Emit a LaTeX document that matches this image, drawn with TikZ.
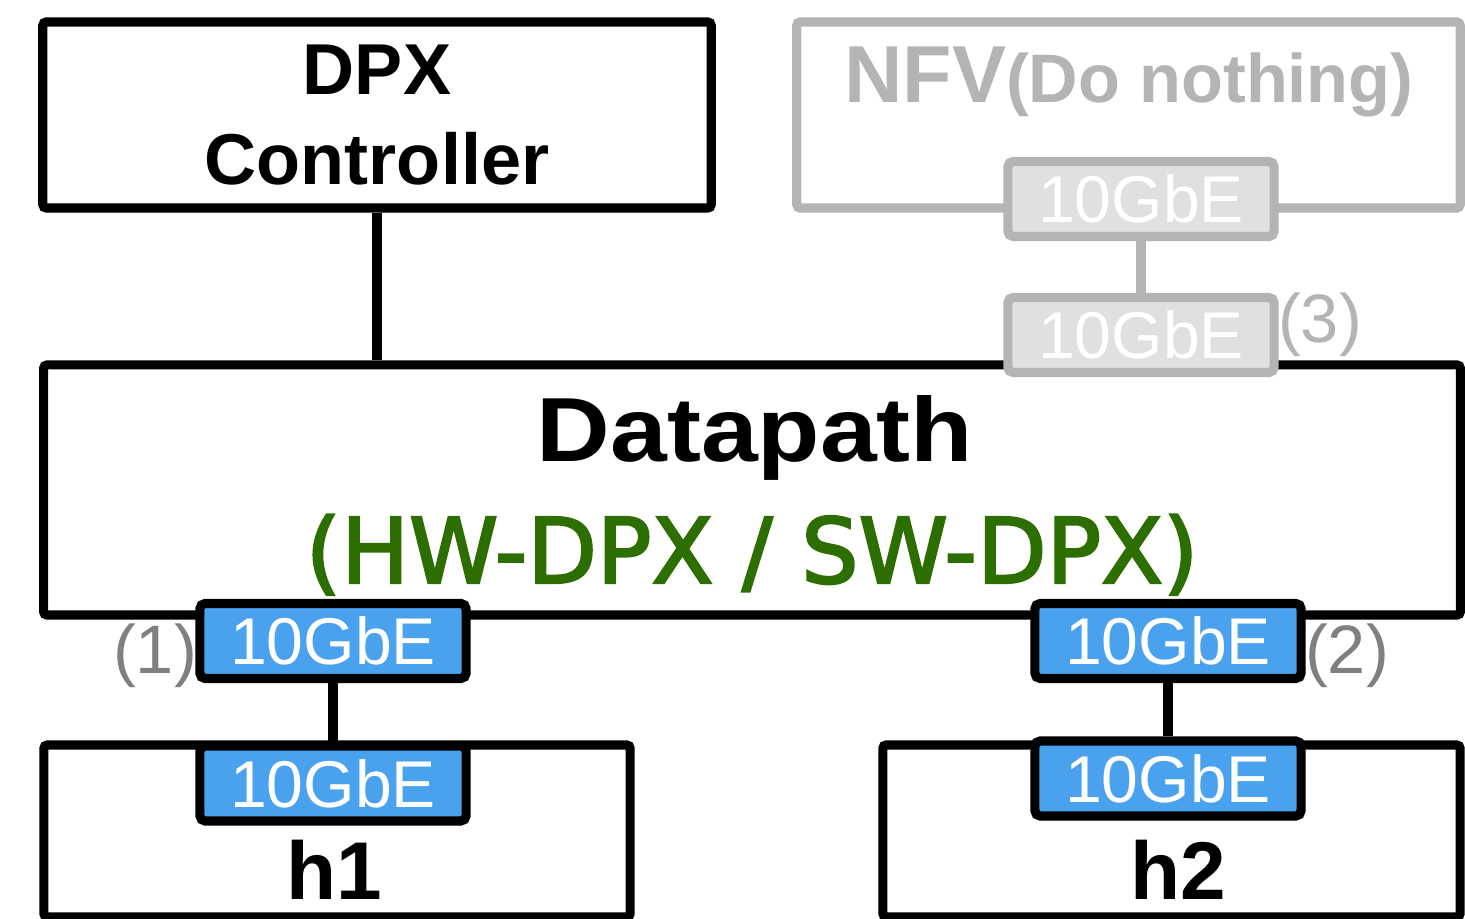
\documentclass[tikz,border=0pt]{standalone}
\usepackage{fontspec}
\setmainfont{Liberation Sans}
\newfontfamily\boldfont{Liberation Sans Bold}
\newfontfamily\widebold[FakeStretch=1.12]{Liberation Sans Bold}
\newfontfamily\kindfont[FakeBold=2.5]{DejaVu Sans}
\usepackage{xcolor}
\definecolor{portblue}{RGB}{74,162,239}
\definecolor{dpgreen}{RGB}{45,110,0}
\definecolor{nfvgray}{RGB}{180,180,180}
\definecolor{nfvfill}{RGB}{224,224,224}
\definecolor{idxgray}{RGB}{128,128,128}

\begin{document}
\begin{tikzpicture}[x=0.01cm, y=-0.01cm, line width=2.6pt,
    box/.style={draw, rectangle, rounded corners=1pt, inner sep=0pt},
    port/.style={draw, fill=portblue, rectangle, rounded corners=1.5pt, inner sep=0pt,
        minimum width=2.66cm, minimum height=0.75cm, text=white,
        font=\fontsize{18.8}{20}\selectfont},
    nfvport/.style={port, draw=nfvgray, fill=nfvfill},
    idx/.style={inner sep=0pt, text=idxgray, font=\fontsize{19.5}{20}\selectfont},
    title/.style={anchor=base, inner sep=0pt}]
                \useasboundingbox (0,0) rectangle (1465,919);
                % boxes
                \node[box, minimum width=6.68cm, minimum height=1.86cm, align=center,
                    font=\boldfont\fontsize{20.5}{25.6}\selectfont] (ctrl) at (377,115) {DPX\\Controller};
                \node[box, draw=nfvgray, minimum width=6.63cm, minimum height=1.86cm] (nfv) at (1128.5,115) {};
                \node[title, text=nfvgray] (nfvname) at (1129,103)
                    {\boldfont\fontsize{23}{24}\selectfont NFV\fontsize{19.5}{24}\selectfont(Do nothing)};
                \node[box, minimum width=14.16cm, minimum height=2.5cm] (dp) at (752,490) {};
                \node[title, font=\widebold\fontsize{25.9}{28}\selectfont] (dpname) at (755,462) {Datapath};
                \node[title, text=dpgreen, font=\kindfont\fontsize{25.7}{28}\selectfont] (dpkind) at (752,583) {(HW-DPX / SW-DPX)};
                \node[box, minimum width=5.86cm, minimum height=1.72cm] (h1) at (337,831) {};
                \node[box, minimum width=5.77cm, minimum height=1.72cm] (h2) at (1171.5,831) {};
                \node[title, font=\boldfont\fontsize{23.3}{25}\selectfont] (h1name) at (334,900) {h1};
                \node[title, font=\boldfont\fontsize{23.3}{25}\selectfont] (h2name) at (1178,900) {h2};
                % ports
                \node[nfvport] (nfvport) at (1141,199) {10GbE};
                \node[nfvport] (dpport3) at (1141,335) {10GbE};
                \node[port] (dpport1) at (333,641) {10GbE};
                \node[port] (h1port) at (333,783.5) {10GbE};
                \node[port] (dpport2) at (1168,641) {10GbE};
                \node[port] (h2port) at (1168,778.5) {10GbE};
                \node[idx] (idx1) at (155,656) {(1)};
                \node[idx] (idx2) at (1347,656) {(2)};
                \node[idx, text=nfvgray] (idx3) at (1320,325) {(3)};
                % links
                \draw (ctrl.south) -- (ctrl.south |- dp.north);
                \draw[nfvgray] (nfvport) -- (dpport3);
                \draw (dpport1) -- (h1port);
                \draw (dpport2) -- (h2port);
            \end{tikzpicture}
\end{document}
